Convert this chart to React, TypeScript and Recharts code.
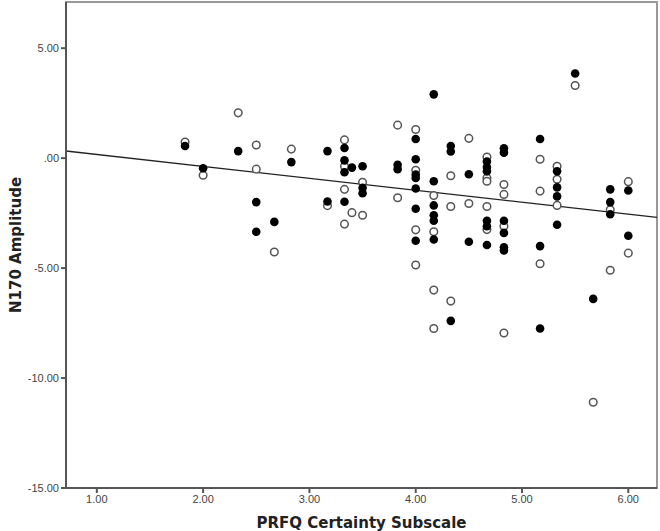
import React from "react";
import {
  ScatterChart,
  Scatter,
  XAxis,
  YAxis,
  ReferenceLine,
  ReferenceArea,
  Label,
} from "recharts";

// [certainty score, N170 amplitude]
const filledPoints: [number, number][] = [
  [1.83, 0.55], [2.0, -0.46], [2.33, 0.32], [2.5, -2.0], [2.5, -3.35],
  [2.67, -2.9], [2.83, -0.18], [3.17, 0.32], [3.17, -1.97],
  [3.33, 0.46], [3.33, -0.1], [3.33, -0.64], [3.33, -1.98], [3.4, -0.43],
  [3.5, -0.37], [3.5, -1.35], [3.5, -1.6], [3.83, -0.3], [3.83, -0.5],
  [4.0, 0.87], [4.0, -0.05], [4.0, -0.75], [4.0, -0.9], [4.0, -1.38], [4.0, -2.3], [4.0, -3.76],
  [4.17, 2.9], [4.17, -1.05], [4.17, -2.15], [4.17, -2.6], [4.17, -2.85], [4.17, -3.7],
  [4.33, 0.55], [4.33, 0.3], [4.33, -7.4], [4.5, -0.73], [4.5, -3.8],
  [4.67, -0.15], [4.67, -0.4], [4.67, -0.6], [4.67, -2.85], [4.67, -3.1], [4.67, -3.95],
  [4.83, 0.45], [4.83, 0.25], [4.83, -2.85], [4.83, -3.4], [4.83, -4.05], [4.83, -4.2],
  [5.17, 0.87], [5.17, -4.0], [5.17, -7.75],
  [5.33, -0.6], [5.33, -1.33], [5.33, -1.74], [5.33, -3.03],
  [5.5, 3.85], [5.67, -6.4], [5.83, -1.42], [5.83, -2.0], [5.83, -2.55],
  [6.0, -1.47], [6.0, -3.53],
];

const openPoints: [number, number][] = [
  [1.83, 0.73], [2.0, -0.78], [2.33, 2.06], [2.5, 0.6], [2.5, -0.5],
  [2.67, -4.27], [2.83, 0.41], [3.17, -2.16],
  [3.33, 0.83], [3.33, -0.37], [3.33, -1.42], [3.33, -3.0], [3.4, -2.48],
  [3.5, -1.1], [3.5, -2.6], [3.83, 1.5], [3.83, -1.8],
  [4.0, 1.3], [4.0, -0.55], [4.0, -3.26], [4.0, -4.86],
  [4.17, -1.7], [4.17, -3.35], [4.17, -6.0], [4.17, -7.75],
  [4.33, -0.8], [4.33, -2.2], [4.33, -6.5], [4.5, 0.9], [4.5, -2.06],
  [4.67, 0.05], [4.67, -0.9], [4.67, -1.05], [4.67, -2.2], [4.67, -3.25],
  [4.83, -1.2], [4.83, -1.65], [4.83, -3.1], [4.83, -7.95],
  [5.17, -0.05], [5.17, -1.5], [5.17, -4.8],
  [5.33, -0.37], [5.33, -0.96], [5.33, -2.15],
  [5.5, 3.3], [5.67, -11.1], [5.83, -2.35], [5.83, -5.1],
  [6.0, -1.07], [6.0, -4.32],
];

const xTicks = [1, 2, 3, 4, 5, 6];
const yTicks = [-15, -10, -5, 0, 5];
const xDomain: [number, number] = [0.71, 6.27];
const yDomain: [number, number] = [-15, 7.1];

// fit line: y = intercept + slope * x
const intercept = 0.71;
const slope = -0.543;

const toObj = (p: [number, number][]) => p.map(([x, y]) => ({ x, y }));

const fmt = (v: number) => {
  if (v === 0) return ".00";
  return v.toFixed(2);
};

const tickStyle = { fontSize: 11, fill: "#444", fontFamily: "Liberation Sans, Arial, sans-serif" };
const titleStyle = { fontSize: 15, fontWeight: "bold", fill: "#222", fontFamily: "DejaVu Sans, sans-serif" };

const App = () => {
  return (
    <div style={{ position: "absolute", left: 0, top: 0, background: "#fff" }}>
      <ScatterChart width={660} height={531} margin={{ top: 2, right: 3, bottom: 0, left: 0 }}>
        <ReferenceArea
          x1={xDomain[0]}
          x2={xDomain[1]}
          y1={yDomain[0]}
          y2={yDomain[1]}
          fill="none"
          stroke="#999"
          strokeWidth={2}
          fillOpacity={0}
          ifOverflow="visible"
        />
        <XAxis
          type="number"
          dataKey="x"
          domain={xDomain}
          ticks={xTicks}
          tickFormatter={fmt}
          allowDataOverflow
          height={43}
          tick={tickStyle}
          tickSize={5}
          stroke="#555"
          strokeWidth={2}
        >
          <Label value="PRFQ Certainty Subscale" position="insideBottom" offset={3} style={titleStyle} />
        </XAxis>
        <YAxis
          type="number"
          dataKey="y"
          domain={yDomain}
          ticks={yTicks}
          tickFormatter={fmt}
          allowDataOverflow
          width={66}
          tick={tickStyle}
          tickSize={5}
          stroke="#555"
          strokeWidth={2}
        >
          <Label value="N170 Amplitude" angle={-90} position="insideLeft" offset={16} style={{ ...titleStyle, textAnchor: "middle" }} />
        </YAxis>
        <ReferenceLine
          segment={[
            { x: xDomain[0], y: intercept + slope * xDomain[0] },
            { x: xDomain[1], y: intercept + slope * xDomain[1] },
          ]}
          stroke="#222"
          strokeWidth={1.3}
        />
        <Scatter
          data={toObj(openPoints)}
          fill="#fff"
          stroke="#555"
          strokeWidth={1.5}
          shape={(p: any) => <circle cx={p.cx} cy={p.cy} r={3.8} fill="#fff" stroke="#555" strokeWidth={1.5} />}
          isAnimationActive={false}
        />
        <Scatter
          data={toObj(filledPoints)}
          fill="#000"
          shape={(p: any) => <circle cx={p.cx} cy={p.cy} r={4.3} fill="#000" />}
          isAnimationActive={false}
        />
      </ScatterChart>
    </div>
  );
};

export default App;
